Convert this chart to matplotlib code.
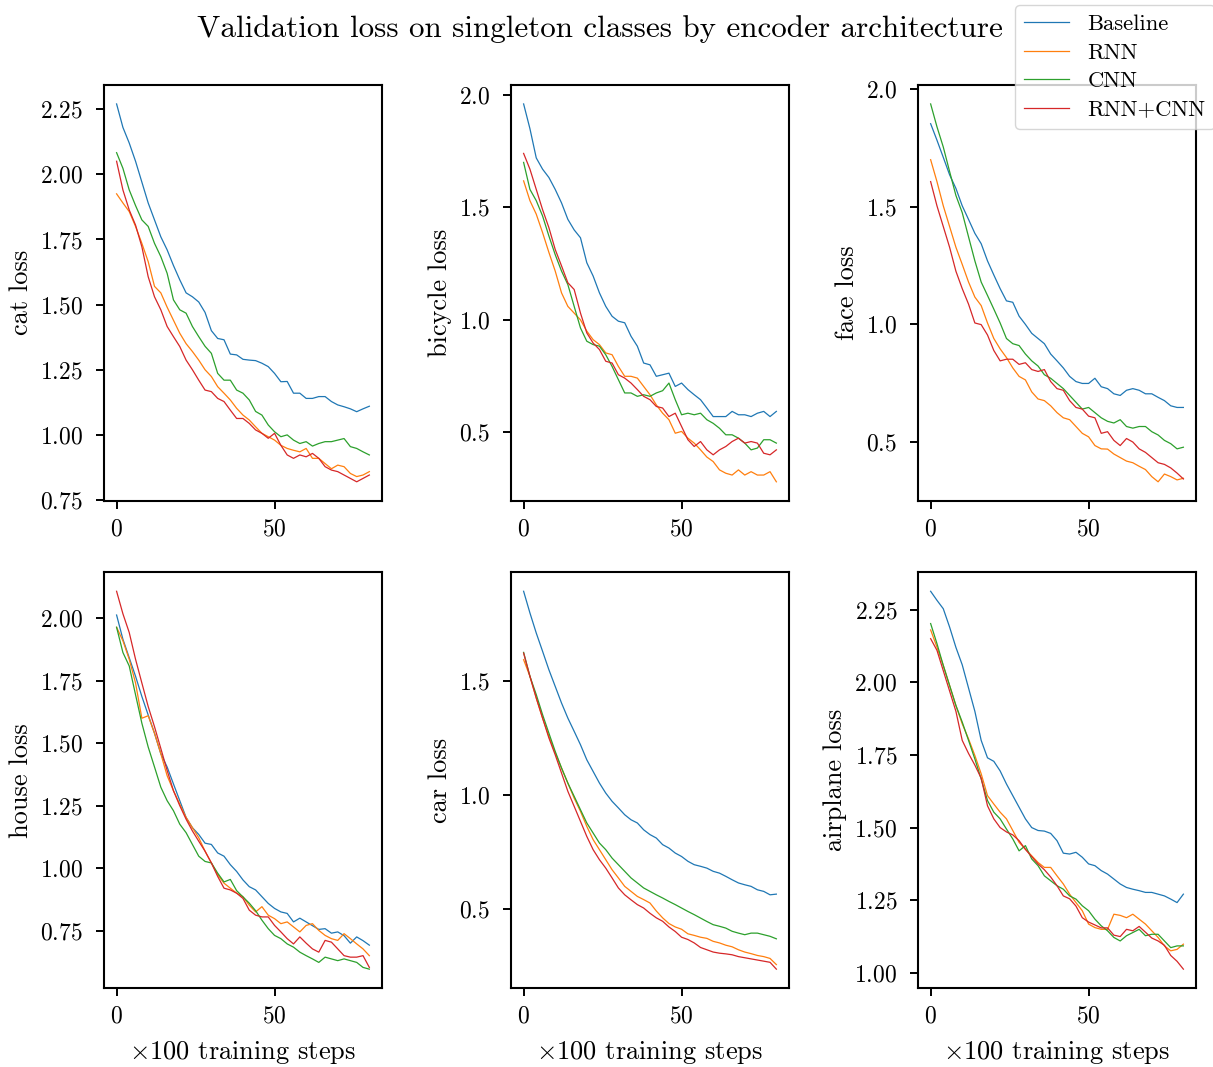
import numpy as np
import matplotlib
matplotlib.use("Agg")
import matplotlib.pyplot as plt
from matplotlib.ticker import MultipleLocator

plt.rcParams['font.family'] = 'cmr10'
plt.rcParams['mathtext.fontset'] = 'cm'
plt.rcParams['axes.formatter.use_mathtext'] = True
plt.rcParams['axes.unicode_minus'] = False

# x axis: x100 training steps, sampled every 2
steps = np.arange(0, 81, 2)

series_names = ['Baseline', 'RNN', 'CNN', 'RNN+CNN']
classes = ['cat', 'bicycle', 'face', 'house', 'car', 'airplane']
ytick_steps = [0.25, 0.5, 0.5, 0.25, 0.5, 0.25]

cat_baseline = [2.27, 2.18, 2.12, 2.05, 1.97, 1.89, 1.825, 1.76, 1.71, 1.65, 1.595, 1.545, 1.53, 1.51,
                1.47, 1.40, 1.37, 1.365, 1.31, 1.307, 1.29, 1.287, 1.285, 1.275, 1.262, 1.236, 1.204,
                1.205, 1.16, 1.16, 1.14, 1.14, 1.147, 1.147, 1.128, 1.115, 1.108, 1.10, 1.089, 1.10, 1.11]
cat_rnn = [1.925, 1.89, 1.857, 1.80, 1.735, 1.665, 1.57, 1.545, 1.49, 1.44, 1.39, 1.35, 1.32, 1.287,
           1.25, 1.224, 1.185, 1.16, 1.134, 1.102, 1.076, 1.057, 1.031, 1.006, 0.993, 0.98, 0.96,
           0.948, 0.941, 0.935, 0.948, 0.91, 0.91, 0.89, 0.87, 0.884, 0.878, 0.852, 0.84, 0.846, 0.859]
cat_cnn = [2.083, 2.023, 1.94, 1.88, 1.825, 1.80, 1.735, 1.684, 1.62, 1.518, 1.48, 1.467, 1.416, 1.377,
           1.34, 1.313, 1.236, 1.21, 1.21, 1.172, 1.16, 1.134, 1.09, 1.076, 1.038, 1.012, 0.993, 1.0,
           0.98, 0.967, 0.974, 0.957, 0.967, 0.974, 0.974, 0.98, 0.986, 0.955, 0.948, 0.935, 0.923]
cat_both = [2.05, 1.94, 1.863, 1.805, 1.722, 1.607, 1.53, 1.48, 1.416, 1.377, 1.339, 1.287, 1.25, 1.21,
            1.172, 1.166, 1.14, 1.128, 1.095, 1.063, 1.063, 1.044, 1.019, 1.006, 0.987, 1.006, 0.96,
            0.923, 0.91, 0.923, 0.916, 0.929, 0.91, 0.878, 0.865, 0.859, 0.846, 0.833, 0.82, 0.833, 0.846]

bicycle_baseline = [1.96, 1.85, 1.72, 1.67, 1.633, 1.58, 1.52, 1.447, 1.40, 1.365, 1.254, 1.195, 1.12,
                    1.06, 1.016, 0.994, 0.987, 0.927, 0.883, 0.808, 0.80, 0.749, 0.756, 0.763, 0.704,
                    0.719, 0.69, 0.667, 0.645, 0.608, 0.57, 0.57, 0.57, 0.593, 0.578, 0.578, 0.57,
                    0.585, 0.593, 0.57, 0.593]
bicycle_rnn = [1.618, 1.53, 1.47, 1.388, 1.30, 1.217, 1.12, 1.06, 1.03, 1.0, 0.95, 0.912, 0.89, 0.853,
               0.845, 0.793, 0.749, 0.749, 0.741, 0.704, 0.667, 0.622, 0.585, 0.556, 0.496, 0.504,
               0.474, 0.452, 0.422, 0.39, 0.37, 0.333, 0.318, 0.31, 0.333, 0.31, 0.325, 0.31, 0.31,
               0.325, 0.28]
bicycle_cnn = [1.70, 1.58, 1.53, 1.462, 1.373, 1.29, 1.217, 1.157, 1.06, 0.964, 0.905, 0.89, 0.883,
               0.845, 0.793, 0.734, 0.675, 0.675, 0.66, 0.667, 0.66, 0.675, 0.685, 0.719, 0.645, 0.578,
               0.585, 0.578, 0.585, 0.556, 0.54, 0.518, 0.489, 0.489, 0.474, 0.452, 0.422, 0.43, 0.467,
               0.467, 0.452]
bicycle_both = [1.74, 1.67, 1.58, 1.49, 1.41, 1.313, 1.24, 1.165, 1.135, 1.03, 0.942, 0.897, 0.868,
                0.816, 0.808, 0.756, 0.741, 0.719, 0.69, 0.66, 0.645, 0.615, 0.608, 0.57, 0.585, 0.526,
                0.467, 0.437, 0.459, 0.422, 0.40, 0.422, 0.437, 0.459, 0.474, 0.452, 0.459, 0.452,
                0.407, 0.40, 0.422]

face_baseline = [1.853, 1.783, 1.71, 1.636, 1.578, 1.504, 1.446, 1.387, 1.343, 1.27, 1.21, 1.152, 1.10,
                 1.094, 1.035, 1.0, 0.962, 0.94, 0.918, 0.874, 0.845, 0.815, 0.779, 0.757, 0.749,
                 0.749, 0.771, 0.735, 0.727, 0.705, 0.698, 0.72, 0.727, 0.72, 0.705, 0.705, 0.69,
                 0.676, 0.654, 0.647, 0.647]
face_rnn = [1.70, 1.607, 1.504, 1.416, 1.328, 1.255, 1.18, 1.116, 1.08, 1.006, 0.94, 0.896, 0.859,
            0.815, 0.779, 0.764, 0.713, 0.683, 0.676, 0.654, 0.625, 0.603, 0.595, 0.566, 0.537, 0.522,
            0.485, 0.471, 0.47, 0.449, 0.434, 0.419, 0.412, 0.397, 0.383, 0.353, 0.331, 0.364, 0.353,
            0.339, 0.346]
face_cnn = [1.937, 1.84, 1.754, 1.65, 1.548, 1.475, 1.372, 1.27, 1.18, 1.123, 1.065, 1.006, 0.94, 0.918,
            0.91, 0.874, 0.845, 0.823, 0.786, 0.771, 0.749, 0.727, 0.698, 0.669, 0.64, 0.647, 0.625,
            0.603, 0.588, 0.581, 0.595, 0.566, 0.559, 0.566, 0.566, 0.544, 0.53, 0.507, 0.493, 0.471,
            0.478]
face_both = [1.607, 1.504, 1.416, 1.328, 1.226, 1.152, 1.086, 1.006, 0.999, 0.955, 0.889, 0.845, 0.852,
             0.852, 0.83, 0.837, 0.808, 0.80, 0.808, 0.757, 0.727, 0.72, 0.676, 0.647, 0.64, 0.61,
             0.603, 0.537, 0.544, 0.507, 0.485, 0.515, 0.50, 0.471, 0.456, 0.434, 0.412, 0.405, 0.39,
             0.368, 0.343]

house_baseline = [2.013, 1.916, 1.842, 1.768, 1.687, 1.613, 1.54, 1.458, 1.405, 1.337, 1.27, 1.203,
                  1.162, 1.135, 1.10, 1.095, 1.061, 1.048, 1.014, 0.987, 0.953, 0.926, 0.913, 0.886,
                  0.859, 0.839, 0.825, 0.819, 0.785, 0.80, 0.785, 0.77, 0.755, 0.758, 0.74, 0.745,
                  0.73, 0.70, 0.725, 0.71, 0.692]
house_rnn = [1.964, 1.91, 1.836, 1.741, 1.60, 1.61, 1.54, 1.458, 1.37, 1.31, 1.256, 1.203, 1.162,
             1.122, 1.068, 1.021, 0.974, 0.94, 0.92, 0.90, 0.886, 0.852, 0.825, 0.846, 0.812, 0.798,
             0.778, 0.785, 0.765, 0.745, 0.771, 0.778, 0.751, 0.731, 0.718, 0.711, 0.738, 0.718,
             0.697, 0.677, 0.65]
house_cnn = [1.964, 1.863, 1.809, 1.694, 1.58, 1.485, 1.405, 1.324, 1.27, 1.23, 1.176, 1.142, 1.095,
             1.048, 1.027, 1.021, 0.98, 0.945, 0.955, 0.91, 0.885, 0.86, 0.83, 0.792, 0.758, 0.731,
             0.718, 0.697, 0.684, 0.664, 0.65, 0.637, 0.623, 0.644, 0.637, 0.63, 0.637, 0.63, 0.623,
             0.603, 0.596]
house_both = [2.108, 2.018, 1.943, 1.836, 1.741, 1.647, 1.566, 1.479, 1.391, 1.31, 1.25, 1.196, 1.149,
              1.108, 1.068, 1.021, 0.967, 0.92, 0.913, 0.90, 0.879, 0.832, 0.812, 0.805, 0.805,
              0.771, 0.745, 0.718, 0.697, 0.725, 0.70, 0.677, 0.664, 0.711, 0.704, 0.677, 0.65,
              0.644, 0.644, 0.65, 0.603]

car_baseline = [1.892, 1.797, 1.709, 1.629, 1.548, 1.475, 1.402, 1.336, 1.278, 1.219, 1.153, 1.102,
                1.051, 1.007, 0.971, 0.942, 0.912, 0.89, 0.876, 0.846, 0.825, 0.81, 0.781, 0.766,
                0.744, 0.729, 0.708, 0.693, 0.686, 0.678, 0.664, 0.656, 0.642, 0.627, 0.613, 0.605,
                0.598, 0.583, 0.576, 0.561, 0.564]
car_rnn = [1.592, 1.519, 1.424, 1.336, 1.256, 1.183, 1.117, 1.051, 0.985, 0.927, 0.861, 0.803, 0.759,
           0.715, 0.671, 0.635, 0.598, 0.576, 0.554, 0.54, 0.525, 0.49, 0.46, 0.435, 0.42, 0.41, 0.39,
           0.383, 0.375, 0.37, 0.357, 0.35, 0.34, 0.333, 0.32, 0.31, 0.303, 0.295, 0.29, 0.282, 0.255]
car_cnn = [1.624, 1.519, 1.439, 1.351, 1.27, 1.19, 1.117, 1.051, 0.993, 0.934, 0.876, 0.832, 0.788,
           0.759, 0.722, 0.693, 0.664, 0.635, 0.613, 0.591, 0.576, 0.561, 0.547, 0.532, 0.518, 0.503,
           0.488, 0.474, 0.459, 0.444, 0.43, 0.423, 0.415, 0.401, 0.393, 0.386, 0.393, 0.393, 0.386,
           0.379, 0.368]
car_both = [1.621, 1.519, 1.424, 1.336, 1.249, 1.175, 1.095, 1.015, 0.949, 0.883, 0.817, 0.759, 0.715,
            0.678, 0.635, 0.591, 0.561, 0.539, 0.518, 0.503, 0.48, 0.46, 0.445, 0.42, 0.40, 0.375,
            0.365, 0.35, 0.33, 0.32, 0.31, 0.305, 0.302, 0.298, 0.29, 0.285, 0.28, 0.275, 0.27, 0.265,
            0.235]

airplane_baseline = [2.313, 2.282, 2.253, 2.19, 2.12, 2.06, 1.98, 1.90, 1.80, 1.74, 1.728, 1.695, 1.65,
                     1.61, 1.57, 1.53, 1.50, 1.49, 1.488, 1.48, 1.455, 1.412, 1.409, 1.415, 1.398,
                     1.375, 1.369, 1.352, 1.34, 1.323, 1.306, 1.294, 1.288, 1.283, 1.277, 1.277, 1.271,
                     1.265, 1.254, 1.242, 1.271]
airplane_rnn = [2.18, 2.121, 2.058, 1.989, 1.92, 1.857, 1.805, 1.748, 1.685, 1.61, 1.581, 1.553, 1.53,
                1.49, 1.449, 1.426, 1.403, 1.38, 1.363, 1.363, 1.334, 1.306, 1.271, 1.242, 1.214, 1.168,
                1.156, 1.15, 1.15, 1.202, 1.198, 1.19, 1.202, 1.185, 1.168, 1.145, 1.122, 1.093, 1.076,
                1.081, 1.099]
airplane_cnn = [2.202, 2.133, 2.058, 1.989, 1.92, 1.863, 1.80, 1.736, 1.667, 1.593, 1.553, 1.53, 1.495,
                1.461, 1.42, 1.438, 1.392, 1.369, 1.334, 1.317, 1.30, 1.288, 1.265, 1.254, 1.231, 1.214,
                1.185, 1.162, 1.145, 1.122, 1.11, 1.128, 1.139, 1.15, 1.128, 1.133, 1.133, 1.11, 1.087,
                1.093, 1.093]
airplane_both = [2.15, 2.11, 2.04, 1.97, 1.90, 1.80, 1.755, 1.715, 1.67, 1.575, 1.53, 1.50, 1.485, 1.475,
                 1.455, 1.425, 1.40, 1.375, 1.355, 1.33, 1.30, 1.265, 1.255, 1.23, 1.19, 1.175, 1.165,
                 1.155, 1.155, 1.13, 1.125, 1.15, 1.145, 1.16, 1.14, 1.12, 1.11, 1.095, 1.06, 1.04, 1.013]

losses = {
    'cat': [cat_baseline, cat_rnn, cat_cnn, cat_both],
    'bicycle': [bicycle_baseline, bicycle_rnn, bicycle_cnn, bicycle_both],
    'face': [face_baseline, face_rnn, face_cnn, face_both],
    'house': [house_baseline, house_rnn, house_cnn, house_both],
    'car': [car_baseline, car_rnn, car_cnn, car_both],
    'airplane': [airplane_baseline, airplane_rnn, airplane_cnn, airplane_both],
}

fig, axs = plt.subplots(2, 3, figsize=(12.13, 10.67), dpi=100)
fig.subplots_adjust(left=0.0857, right=0.986, top=0.9203, bottom=0.074,
                    wspace=0.464, hspace=0.1725)

for i, (ax, cls) in enumerate(zip(axs.flat, classes)):
    for name, vals in zip(series_names, losses[cls]):
        ax.plot(steps, vals, lw=0.9, label=name)
    ax.set_ylabel(cls + ' loss', fontsize=19, labelpad=5)
    ax.xaxis.set_major_locator(MultipleLocator(50))
    ax.yaxis.set_major_locator(MultipleLocator(ytick_steps[i]))
    ax.tick_params(labelsize=17, length=6, width=1.4, pad=6.5)
    ax.tick_params(axis='y', pad=9)
    for sp in ax.spines.values():
        sp.set_linewidth(1.5)
    if i >= 3:
        ax.set_xlabel(r'$\times$100 training steps', fontsize=19, labelpad=8)

handles, labels = axs[0, 0].get_legend_handles_labels()
fig.legend(handles, labels, loc='upper right', bbox_to_anchor=(1.0107, 1.0056),
           fontsize=16.3, labelspacing=0.38)
fig.suptitle('Validation loss on singleton classes by encoder architecture',
             x=0.495, y=0.973, va='center', fontsize=22.4)

fig.savefig('out.png', dpi=100)
